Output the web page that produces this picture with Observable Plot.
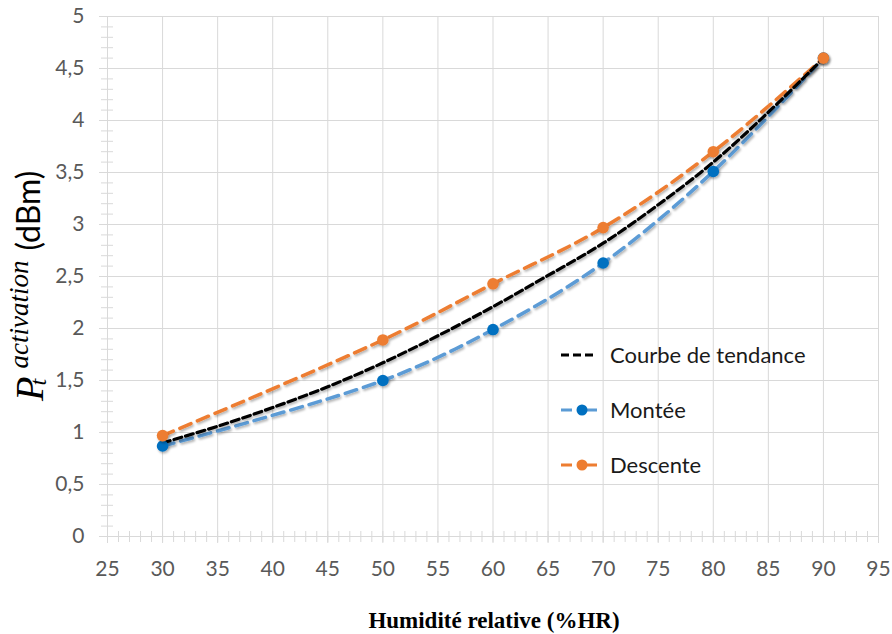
<!DOCTYPE html>
<html><head><meta charset="utf-8">
<script src="https://cdn.jsdelivr.net/npm/d3@7"></script>
<script src="https://cdn.jsdelivr.net/npm/@observablehq/plot@0.6"></script>
<style>
html,body{margin:0;padding:0;background:#fff;}
#chart svg{display:block;}
</style></head><body><div id="chart"></div>
<script>
// ---- data ----
const humidity = [30, 50, 60, 70, 80, 90];
const montee   = [0.87, 1.50, 1.99, 2.63, 3.51, 4.60];
const descente = [0.97, 1.89, 2.43, 2.97, 3.70, 4.60];
const trendX = [30, 35, 40, 45, 50, 55, 60, 65, 70, 75, 80, 85, 90];
const trendY = [0.90, 1.06, 1.24, 1.44, 1.67, 1.93, 2.21, 2.51, 2.82, 3.19, 3.60, 4.08, 4.60];
const xTicks = [25, 30, 35, 40, 45, 50, 55, 60, 65, 70, 75, 80, 85, 90, 95];
const yTicks = [0, 0.5, 1, 1.5, 2, 2.5, 3, 3.5, 4, 4.5, 5];
const yTickLabels = ["0", "0,5", "1", "1,5", "2", "2,5", "3", "3,5", "4", "4,5", "5"];
const seriesNames = ["Courbe de tendance", "Montée", "Descente"];
const xLabel = "Humidité relative (%HR)";

const xMinor = d3.range(25, 95.5, 1);
const yMinor = d3.range(0, 50.5, 1).map(d => d / 10);

const montData = humidity.map((h, i) => ({x: h, y: montee[i]}));
const descData = humidity.map((h, i) => ({x: h, y: descente[i]}));
const trendData = trendX.map((h, i) => ({x: h, y: trendY[i]}));

const grid = "#d9d9d9";
const blueLine = "#5B9BD5", blueDot = "#0070C0", orange = "#ED7D31";

const chart = Plot.plot({
  width: 892, height: 634,
  marginLeft: 107, marginRight: 14, marginTop: 16, marginBottom: 98,
  style: {fontFamily: "Lato, sans-serif", fontSize: "21px", color: "#595959", background: "#fff", overflow: "visible"},
  x: {domain: [25, 95]},
  y: {domain: [0, 5]},
  marks: [
    Plot.gridX(xTicks, {stroke: grid, strokeOpacity: 1, strokeWidth: 1, insetBottom: -7}),
    Plot.gridY(yTicks, {stroke: grid, strokeOpacity: 1, strokeWidth: 1, insetLeft: -8}),
    Plot.ruleX(xMinor, {x: d => d, y1: () => 0, y2: () => 0, insetTop: -5, insetBottom: -6, stroke: grid}),
    Plot.ruleY(yMinor, {y: d => d, x1: () => 25, x2: () => 25, insetLeft: -6, insetRight: -6, stroke: grid}),
    Plot.axisX(xTicks, {tickSize: 0, tickPadding: 25, fill: "#595959", label: null, fontSize: 21}),
    Plot.axisY(yTicks, {tickSize: 0, tickPadding: 23, fill: "#595959", label: null, fontSize: 21,
      tickFormat: d => yTickLabels[yTicks.indexOf(d)]}),
    Plot.line(montData, {x: "x", y: "y", stroke: blueLine, strokeWidth: 3.5, strokeDasharray: "12,7", curve: "catmull-rom"}),
    Plot.line(descData, {x: "x", y: "y", stroke: orange, strokeWidth: 3.5, strokeDasharray: "12,7", curve: "catmull-rom"}),
    Plot.line(trendData, {x: "x", y: "y", stroke: "#000", strokeWidth: 3.2, strokeDasharray: "8,4", curve: "catmull-rom"}),
    Plot.dot(montData, {x: "x", y: "y", r: 5.8, fill: blueDot, stroke: "none"}),
    Plot.dot(descData, {x: "x", y: "y", r: 5.8, fill: orange, stroke: "none"})
  ]
});
document.getElementById("chart").appendChild(chart);

const svg = d3.select(chart);

// soft shadow like the spreadsheet rendering
const defs = svg.insert("defs", ":first-child");
const f = defs.append("filter").attr("id", "shadow").attr("x", "-10%").attr("y", "-10%").attr("width", "120%").attr("height", "120%");
f.append("feDropShadow").attr("dx", 1.2).attr("dy", 1.8).attr("stdDeviation", 1.3)
  .attr("flood-color", "#000").attr("flood-opacity", 0.3);
svg.selectAll('g[aria-label="line"], g[aria-label="dot"]').attr("filter", "url(#shadow)");

// legend
const legendColors = ["#000", blueLine, orange];
const legendDots = [null, blueDot, orange];
seriesNames.forEach((name, i) => {
  const y = 355 + i * 55;
  const g = svg.append("g").attr("text-anchor", "start");
  g.append("line").attr("x1", 561).attr("x2", 597).attr("y1", y).attr("y2", y)
    .attr("stroke", legendColors[i]).attr("stroke-width", 3.2)
    .attr("stroke-dasharray", i === 0 ? "8,4" : "11,14");
  if (legendDots[i]) g.append("circle").attr("cx", 582).attr("cy", y).attr("r", 5.5).attr("fill", legendDots[i]);
  g.append("text").attr("x", 610).attr("y", y).attr("dy", "0.35em").attr("text-anchor", "start")
    .attr("font-family", "Lato, sans-serif").attr("font-size", 22).attr("fill", "#1a1a1a").text(name);
});

// x label
svg.append("text").attr("x", 494).attr("y", 628).attr("text-anchor", "middle")
  .attr("font-family", "'Liberation Serif', serif").attr("font-weight", "bold").attr("font-size", 23)
  .attr("fill", "#000").text(xLabel);

// y label (rotated math-like)
const yl = svg.append("g").attr("transform", "rotate(-90)").attr("text-anchor", "start");
const u0 = -401;
const P = yl.append("text").attr("x", u0).attr("y", 43).attr("text-anchor", "start")
  .attr("font-family", "'Liberation Serif', serif").attr("font-style", "italic").attr("font-size", 40)
  .attr("fill", "#000").text("P");
const pw = P.node().getComputedTextLength();
const supStart = u0 + pw + 8;
const sup = yl.append("text").attr("x", supStart).attr("y", 28).attr("text-anchor", "start")
  .attr("font-family", "'Liberation Serif', serif").attr("font-style", "italic").attr("font-size", 27)
  .attr("fill", "#000").text("activation");
yl.append("text").attr("x", u0 + pw - 9).attr("y", 46).attr("text-anchor", "start")
  .attr("font-family", "'Liberation Serif', serif").attr("font-style", "italic").attr("font-size", 24)
  .attr("fill", "#000").text("t");
const sw = sup.node().getComputedTextLength();
yl.append("text").attr("x", supStart + sw + 10).attr("y", 40).attr("text-anchor", "start")
  .attr("font-family", "Lato, sans-serif").attr("font-size", 32)
  .attr("fill", "#000").text("(dBm)");
</script>
</body></html>
